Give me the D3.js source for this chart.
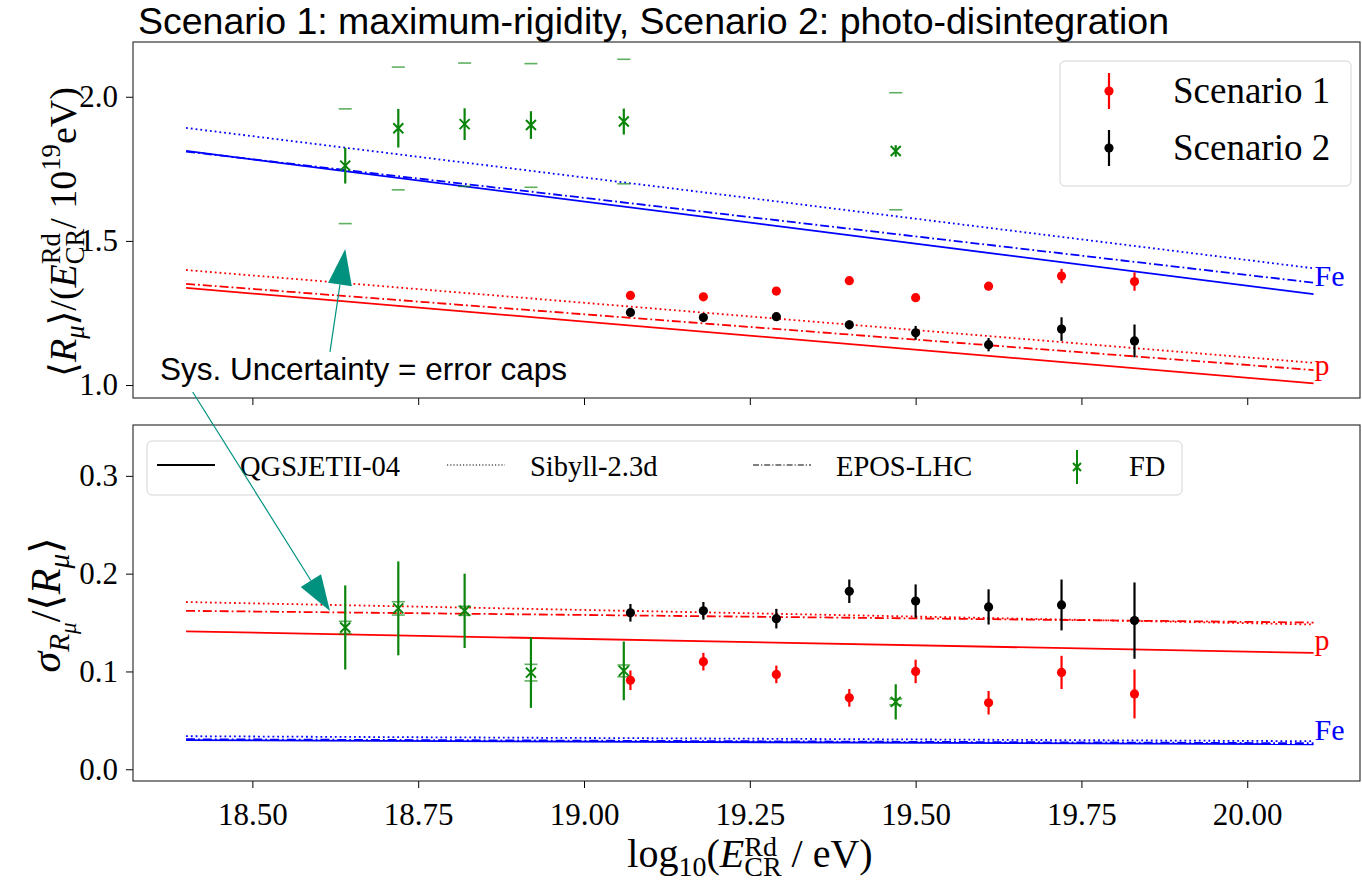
<!DOCTYPE html>
<html>
<head>
<meta charset="utf-8">
<script src="https://cdn.jsdelivr.net/npm/d3@7"></script>
<style>
  body { margin: 0; background: #fff; }
  text { font-family: "Liberation Serif", "DejaVu Serif", serif; }
  .sans { font-family: "Liberation Sans", Arial, sans-serif; }
</style>
</head>
<body>
<svg id="fig" width="1362" height="884"></svg>
<script>
// energy bins of the radio scenarios
const lgE = [19.07, 19.18, 19.29, 19.40, 19.50, 19.61, 19.72, 19.83];
const s1Mean = [1.311, 1.306, 1.326, 1.362, 1.303, 1.343, 1.378, 1.359];
const s1MeanErr = [0.008, 0.008, 0.008, 0.009, 0.009, 0.010, 0.025, 0.032];
const s2Mean = [1.252, 1.234, 1.237, 1.209, 1.181, 1.140, 1.194, 1.153];
const s2MeanErr = [0.010, 0.010, 0.010, 0.015, 0.024, 0.023, 0.041, 0.057];
const s1Sigma = [0.091, 0.110, 0.097, 0.073, 0.100, 0.068, 0.099, 0.077];
const s1SigmaErr = [0.010, 0.009, 0.009, 0.009, 0.012, 0.012, 0.017, 0.025];
const s2Sigma = [0.160, 0.162, 0.154, 0.182, 0.172, 0.166, 0.168, 0.152];
const s2SigmaErr = [0.009, 0.009, 0.010, 0.012, 0.017, 0.018, 0.026, 0.039];

// FD measurement
const fdE = [18.64, 18.72, 18.82, 18.92, 19.06, 19.47];
const fdMean = [1.761, 1.891, 1.905, 1.902, 1.914, 1.812];
const fdMeanStat = [0.062, 0.067, 0.055, 0.048, 0.045, 0.020];
const fdMeanSysUp = [0.197, 0.212, 0.212, 0.213, 0.216, 0.202];
const fdMeanSysLo = [0.201, 0.214, 0.216, 0.216, 0.216, 0.204];
const fdSigma = [0.145, 0.1645, 0.162, 0.0988, 0.1006, 0.0689];
const fdSigmaStat = [0.043, 0.048, 0.038, 0.036, 0.030, 0.018];
const fdSigmaSys = [0.0063, 0.0068, 0.0046, 0.0085, 0.0060, 0.0030];

// hadronic model predictions (end points of the fits)
const modelE = [18.4, 20.1];
const pMeanQgs = [1.337, 1.006], pMeanSib = [1.399, 1.077], pMeanEpos = [1.351, 1.052];
const feMeanQgs = [1.812, 1.315], feMeanSib = [1.892, 1.405], feMeanEpos = [1.810, 1.355];
const pSigQgs = [0.141, 0.119], pSigSib = [0.171, 0.148], pSigEpos = [0.162, 0.150];
const feSigQgs = [0.0297, 0.0256], feSigSib = [0.0338, 0.0287], feSigEpos = [0.0307, 0.0266];

const models = ["QGSJETII-04", "Sibyll-2.3d", "EPOS-LHC"];
const xTicks = [18.5, 18.75, 19.0, 19.25, 19.5, 19.75, 20.0];
const yTopTicks = [1.0, 1.5, 2.0];
const yBotTicks = [0.0, 0.1, 0.2, 0.3];

const teal = "#00917f";
const fdGreen = "#0a840a";
const dashes = { solid: null, dotted: "1.8,3", dashdot: "9,3,1.8,3" };

const svg = d3.select("#fig");

const x = d3.scaleLinear().domain([18.32, 20.17]).range([133, 1360]);
const yTop = d3.scaleLinear().domain([0.955, 2.19]).range([398, 42]);
const yBot = d3.scaleLinear().domain([-0.012, 0.352]).range([781, 425]);

//axes
function axes(ys, yTicks, fmt, labels) {
  const g = svg.append("g");
  g.append("g")
    .attr("transform", "translate(0," + ys.range()[0] + ")")
    .call(d3.axisBottom(x).tickValues(xTicks).tickSize(7).tickPadding(15)
      .tickFormat(labels ? d3.format(".2f") : ""))
    .call(a => a.select(".domain").remove());
  g.append("g")
    .attr("transform", "translate(" + x.range()[0] + ",0)")
    .call(d3.axisLeft(ys).tickValues(yTicks).tickSize(7).tickPadding(8).tickFormat(fmt))
    .call(a => a.select(".domain").remove());
  g.selectAll(".tick text").attr("font-size", 31).attr("font-family", null).attr("fill", "#000");
  g.selectAll(".tick line").attr("stroke", "#000");
  g.append("rect")
    .attr("x", x.range()[0]).attr("y", ys.range()[1])
    .attr("width", x.range()[1] - x.range()[0])
    .attr("height", ys.range()[0] - ys.range()[1])
    .attr("fill", "none").attr("stroke", "#222").attr("stroke-width", 1.1);
  return g;
}

function drawModel(g, ys, vals, color, dash) {
  g.append("path")
    .datum(modelE.map((e, i) => [e, vals[i]]))
    .attr("d", d3.line().x(d => x(d[0])).y(d => ys(d[1])))
    .attr("fill", "none").attr("stroke", color).attr("stroke-width", 1.8)
    .attr("stroke-dasharray", dash);
}

function drawPoints(g, ys, vs, es, color) {
  g.selectAll(null).data(lgE).join("line")
    .attr("x1", d => x(d)).attr("x2", d => x(d))
    .attr("y1", (d, i) => ys(vs[i] - es[i])).attr("y2", (d, i) => ys(vs[i] + es[i]))
    .attr("stroke", color).attr("stroke-width", 2.2);
  g.selectAll(null).data(lgE).join("circle")
    .attr("cx", d => x(d)).attr("cy", (d, i) => ys(vs[i]))
    .attr("r", 4.6).attr("fill", color);
}

function xMark(g, cx, cy, s) {
  g.append("path")
    .attr("d", `M${cx - s},${cy - s}L${cx + s},${cy + s}M${cx - s},${cy + s}L${cx + s},${cy - s}`)
    .attr("stroke", fdGreen).attr("stroke-width", 2);
}

function drawFD(g, ys, vs, stat, sysUp, sysLo) {
  fdE.forEach((e, i) => {
    const cx = x(e);
    g.append("line")
      .attr("x1", cx).attr("x2", cx)
      .attr("y1", ys(vs[i] - stat[i])).attr("y2", ys(vs[i] + stat[i]))
      .attr("stroke", fdGreen).attr("stroke-width", 2.2);
    [vs[i] + sysUp[i], vs[i] - sysLo[i]].forEach(v => {
      g.append("line")
        .attr("x1", cx - 6.5).attr("x2", cx + 6.5)
        .attr("y1", ys(v)).attr("y2", ys(v))
        .attr("stroke", fdGreen).attr("stroke-opacity", 0.65).attr("stroke-width", 1.6);
    });
    xMark(g, cx, ys(vs[i]), 5);
  });
}

// math-like text, laid out piece by piece
function mathText(g, parts, size, rise) {
  rise = rise || 0.42;
  let cur = 0, stackStart = 0, stackW = 0;
  parts.forEach(p => {
    const fs = p.s === "ss" ? size * 0.55 : p.s ? size * 0.7 : size;
    const dy = p.s === "sup" ? -size * rise : p.s === "sub" ? size * 0.22 : p.s === "ss" ? size * 0.38 : 0;
    const x0 = p.stack ? stackStart : cur;
    const t = g.append("text")
      .attr("x", x0).attr("y", dy)
      .attr("font-size", fs)
      .attr("font-style", p.it ? "italic" : "normal")
      .text(p.t);
    const w = t.node().getComputedTextLength();
    if (p.stack) {
      cur = stackStart + Math.max(stackW, w);
    } else {
      stackStart = x0; stackW = w; cur = x0 + w;
    }
  });
  g.selectAll("text").attr("x", function () { return +this.getAttribute("x") - cur / 2; });
}

//drawing
const topG = axes(yTop, yTopTicks, d3.format(".1f"), false);
const botG = axes(yBot, yBotTicks, d3.format(".1f"), true);

[[pMeanQgs, "solid"], [pMeanSib, "dotted"], [pMeanEpos, "dashdot"]].forEach(m => drawModel(topG, yTop, m[0], "#ff0000", dashes[m[1]]));
[[feMeanQgs, "solid"], [feMeanSib, "dotted"], [feMeanEpos, "dashdot"]].forEach(m => drawModel(topG, yTop, m[0], "#0000ff", dashes[m[1]]));
[[pSigQgs, "solid"], [pSigSib, "dotted"], [pSigEpos, "dashdot"]].forEach(m => drawModel(botG, yBot, m[0], "#ff0000", dashes[m[1]]));
[[feSigQgs, "solid"], [feSigSib, "dotted"], [feSigEpos, "dashdot"]].forEach(m => drawModel(botG, yBot, m[0], "#0000ff", dashes[m[1]]));

drawFD(topG, yTop, fdMean, fdMeanStat, fdMeanSysUp, fdMeanSysLo);
drawFD(botG, yBot, fdSigma, fdSigmaStat, fdSigmaSys, fdSigmaSys);

drawPoints(topG, yTop, s1Mean, s1MeanErr, "#ff0000");
drawPoints(topG, yTop, s2Mean, s2MeanErr, "#000000");
drawPoints(botG, yBot, s1Sigma, s1SigmaErr, "#ff0000");
drawPoints(botG, yBot, s2Sigma, s2SigmaErr, "#000000");

// primary labels at line ends
[[topG, yTop, 1.344, "Fe", "#0000ff"], [topG, yTop, 1.035, "p", "#ff0000"],
 [botG, yBot, 0.122, "p", "#ff0000"], [botG, yBot, 0.030, "Fe", "#0000ff"]].forEach(l => {
  l[0].append("text").attr("x", x(modelE[1]) + 1).attr("y", l[1](l[2]))
    .attr("font-size", 30).attr("fill", l[4]).text(l[3]);
});

// legend scenarios
const leg1 = svg.append("g");
leg1.append("rect").attr("x", 1060).attr("y", 61).attr("width", 291).attr("height", 125).attr("rx", 5)
  .attr("fill", "#fff").attr("fill-opacity", 0.8).attr("stroke", "#d4d4d4");
[["Scenario 1", "#ff0000"], ["Scenario 2", "#000000"]].forEach((s, i) => {
  const cy = 91 + i * 57;
  leg1.append("line").attr("x1", 1109).attr("x2", 1109).attr("y1", cy - 18).attr("y2", cy + 18)
    .attr("stroke", s[1]).attr("stroke-width", 2.2);
  leg1.append("circle").attr("cx", 1109).attr("cy", cy).attr("r", 4.6).attr("fill", s[1]);
  leg1.append("text").attr("x", 1173).attr("y", cy + 12).attr("font-size", 37).text(s[0]);
});

// legend models
const leg2 = svg.append("g");
leg2.append("rect").attr("x", 147).attr("y", 441).attr("width", 1035).attr("height", 54).attr("rx", 5)
  .attr("fill", "#fff").attr("fill-opacity", 0.8).attr("stroke", "#d4d4d4");
const legX = [157, 447, 753];
models.forEach((m, i) => {
  leg2.append("line").attr("x1", legX[i]).attr("x2", legX[i] + 58).attr("y1", 465).attr("y2", 465)
    .attr("stroke", "#000").attr("stroke-width", i === 0 ? 1.8 : 1.2)
    .attr("stroke-dasharray", [null, "1.2,2", "6,2,1.2,2"][i]);
  leg2.append("text").attr("x", legX[i] + 83).attr("y", 476).attr("font-size", 28.5).text(m);
});
leg2.append("line").attr("x1", 1077).attr("x2", 1077).attr("y1", 450).attr("y2", 484)
  .attr("stroke", fdGreen).attr("stroke-width", 2);
xMark(leg2, 1077, 467, 4);
leg2.append("text").attr("x", 1129).attr("y", 476).attr("font-size", 28.5).text("FD");

// axis titles
const yl1 = svg.append("g").attr("transform", "translate(76,232) rotate(-90)");
mathText(yl1, [
  { t: "\u27E8" }, { t: "R", it: true }, { t: "\u03BC", it: true, s: "sub" }, { t: "\u27E9/(" },
  { t: "E", it: true }, { t: "Rd", s: "sup" }, { t: "CR", s: "sub", stack: true },
  { t: "/\u00A010" }, { t: "19", s: "sup" }, { t: "eV)" }
], 38);
const yl2 = svg.append("g").attr("transform", "translate(60,605) rotate(-90)");
mathText(yl2, [
  { t: "\u03C3", it: true }, { t: "R", it: true, s: "sub" }, { t: "\u03BC", it: true, s: "ss" },
  { t: "/\u27E8" }, { t: "R", it: true }, { t: "\u03BC", it: true, s: "sub" }, { t: "\u27E9" }
], 42);
const xl = svg.append("g").attr("transform", "translate(750,867)");
mathText(xl, [
  { t: "log" }, { t: "10", s: "sub" }, { t: "(" }, { t: "E", it: true },
  { t: "Rd", s: "sup" }, { t: "CR", s: "sub", stack: true }, { t: "\u00A0/\u00A0eV)" }
], 40, 0.27);

svg.append("text").attr("class", "sans").attr("x", 138).attr("y", 34).attr("font-size", 37.5)
  .text("Scenario 1: maximum-rigidity, Scenario 2: photo-disintegration");

// annotation
svg.append("text").attr("class", "sans").attr("x", 160).attr("y", 380).attr("font-size", 31.5)
  .text("Sys. Uncertainty = error caps");

function arrow(x0, y0, x1, y1) {
  const dx = x1 - x0, dy = y1 - y0, L = Math.hypot(dx, dy), ux = dx / L, uy = dy / L;
  const hl = 36, hw = 12;
  const bx = x1 - ux * hl, by = y1 - uy * hl;
  svg.append("line").attr("x1", x0).attr("y1", y0).attr("x2", bx).attr("y2", by)
    .attr("stroke", teal).attr("stroke-width", 1.2);
  svg.append("path")
    .attr("d", `M${x1},${y1}L${bx - uy * hw},${by + ux * hw}L${bx + uy * hw},${by - ux * hw}Z`)
    .attr("fill", teal);
}
arrow(x(18.617), yTop(1.115), x(18.64), yTop(1.472));
arrow(x(18.41), yTop(0.976), x(18.617), yBot(0.1618));
</script>
</body>
</html>
